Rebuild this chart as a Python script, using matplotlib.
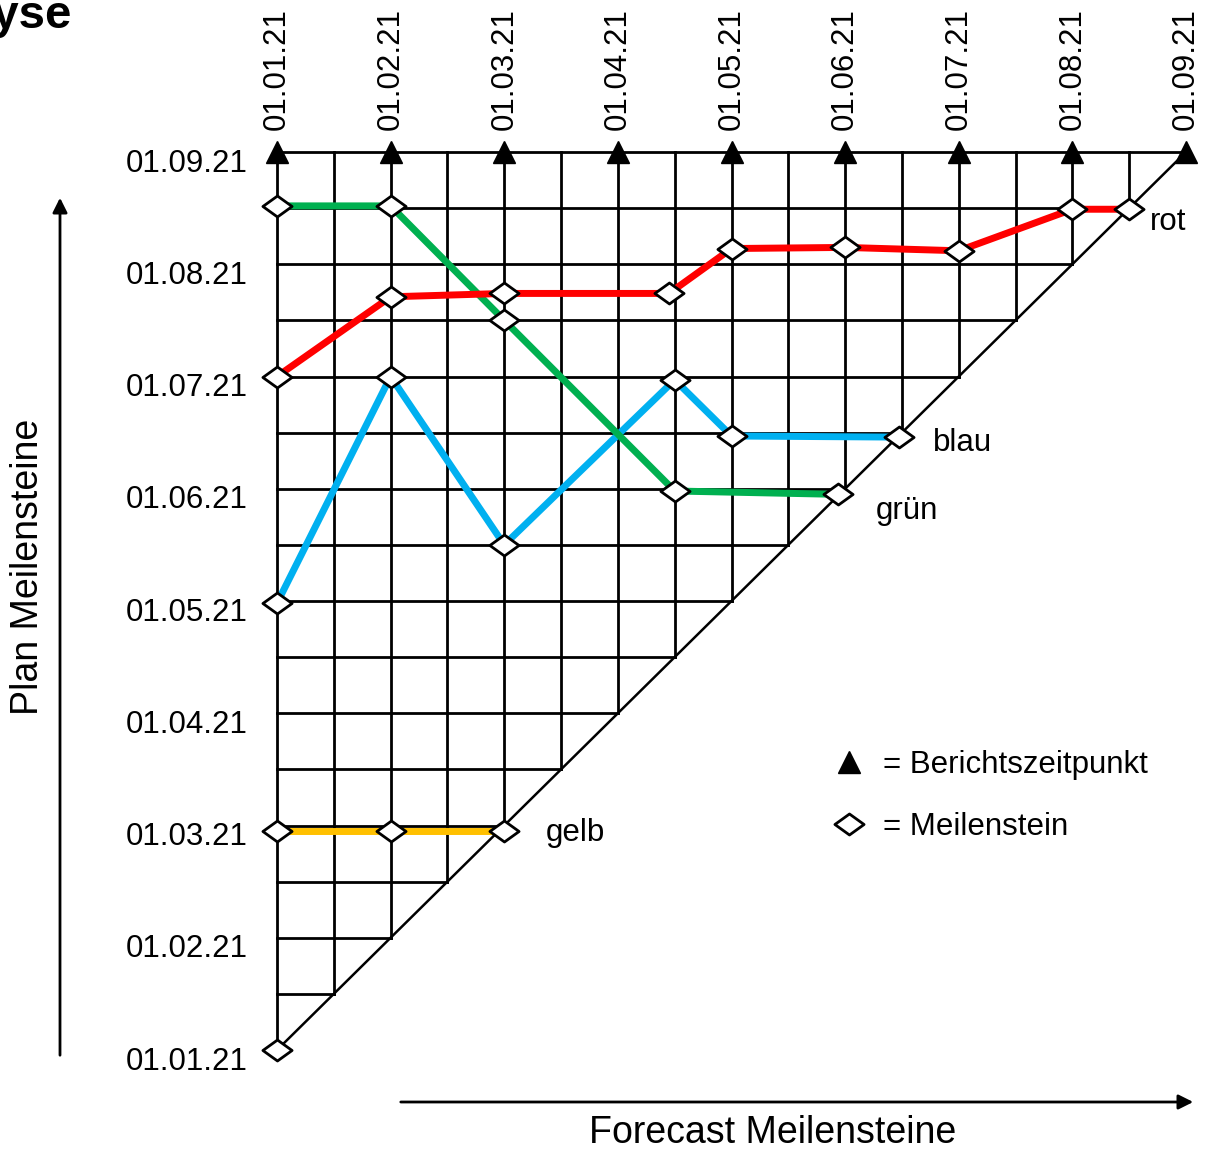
import numpy as np
import matplotlib.pyplot as plt
from matplotlib.path import Path
from matplotlib.lines import Line2D
from matplotlib.transforms import ScaledTranslation

plt.rcParams['font.family'] = ['Liberation Sans', 'DejaVu Sans']

# dates (report date on x, planned milestone date on y), in months from 01.01.21
dates = ['01.01.21', '01.02.21', '01.03.21', '01.04.21', '01.05.21',
         '01.06.21', '01.07.21', '01.08.21', '01.09.21']

rot_x = [0, 1, 2, 3.45, 4, 5, 6, 7, 7.5]
rot_y = [6.0, 6.71, 6.74, 6.74, 7.14, 7.15, 7.12, 7.49, 7.49]

gruen_x = [0, 1, 2, 3.5, 4.94]
gruen_y = [7.52, 7.52, 6.5, 4.98, 4.95]

blau_x = [0, 1, 2, 3.5, 4.0, 5.47]
blau_y = [3.98, 6.0, 4.5, 5.97, 5.47, 5.46]

gelb_x = [0, 1, 2]
gelb_y = [1.95, 1.95, 1.95]

start_x = [0]
start_y = [0]

series = [
    ('gelb', gelb_x, gelb_y, '#FFC000', (30, -1)),
    ('blau', blau_x, blau_y, '#00B0F0', (25, -4)),
    ('grün', gruen_x, gruen_y, '#00B050', (27, -12)),
    ('rot', rot_x, rot_y, '#FF0000', (15, -9)),
]

fs = 22.5
diamond = Path([(-1, 0), (0, 0.72), (1, 0), (0, -0.72), (-1, 0)],
               [Path.MOVETO, Path.LINETO, Path.LINETO, Path.LINETO, Path.CLOSEPOLY])

fig = plt.figure(figsize=(12.11, 11.52), dpi=100)
ax = fig.add_axes([277 / 1211, 1 - 1050 / 1152, 909 / 1211, 898 / 1152])
n = len(dates) - 1
ax.set_xlim(0, n)
ax.set_ylim(0, n)
for s in ax.spines.values():
    s.set_visible(False)

# triangular grid (half-month steps)
steps = np.arange(0, n + 0.01, 0.5)
for v in steps:
    if v > 0:
        ax.plot([0, v], [v, v], color='black', lw=2, clip_on=False, zorder=1)
    if v < n:
        ax.plot([v, v], [v, n], color='black', lw=2, clip_on=False, zorder=1)
ax.plot([0, n], [0, n], color='black', lw=1.8, clip_on=False, zorder=1)

# report dates
ax.plot(range(n + 1), [n] * (n + 1), linestyle='none', marker='^', ms=16,
        color='black', clip_on=False, zorder=5)

for name, xs, ys, col, off in series:
    ax.plot(xs, ys, color=col, lw=5, solid_capstyle='butt', zorder=3)
    ax.plot(xs, ys, linestyle='none', marker=diamond, ms=21, mfc='white',
            mec='black', mew=2, clip_on=False, zorder=4)
    ax.annotate(name, (xs[-1], ys[-1]), xytext=off, textcoords='offset points',
                ha='left', va='center', fontsize=fs)
ax.plot(start_x, start_y, linestyle='none', marker=diamond, ms=21, mfc='white',
        mec='black', mew=2, clip_on=False, zorder=4)

# axis labels
ax.xaxis.tick_top()
ax.set_xticks(range(n + 1))
ax.set_xticklabels(dates, rotation=90, fontsize=fs)
ax.set_yticks(range(n + 1))
ax.set_yticklabels(dates, fontsize=fs)
ax.tick_params(axis='x', length=0, pad=16)
ax.tick_params(axis='y', length=0, pad=21)
for lab in ax.get_yticklabels():
    lab.set_transform(lab.get_transform() + ScaledTranslation(0, -0.08, fig.dpi_scale_trans))

# legend
handles = [
    Line2D([], [], linestyle='none', marker='^', ms=16, color='black'),
    Line2D([], [], linestyle='none', marker=diamond, ms=21, mfc='white', mec='black', mew=2),
]
ax.legend(handles, ['= Berichtszeitpunkt', '= Meilenstein'], frameon=False,
          fontsize=fs, loc='upper left', bbox_to_anchor=(0.581, 0.365),
          handlelength=1.0, handletextpad=0.6, labelspacing=1.0)

# axis arrows and titles
fig.text(28 / 1211, 1 - 567 / 1152, 'Plan Meilensteine', rotation=90,
         ha='center', va='center', fontsize=27)
fig.text(773 / 1211, 1 - 1133 / 1152, 'Forecast Meilensteine',
         ha='center', va='center', fontsize=27)
arrow = dict(arrowstyle='-|>', lw=2, color='black', mutation_scale=22)
ax.annotate('', xy=(60 / 1211, 1 - 195 / 1152), xytext=(60 / 1211, 1 - 1058 / 1152),
            xycoords='figure fraction', textcoords='figure fraction', arrowprops=arrow)
ax.annotate('', xy=(1196 / 1211, 1 - 1102 / 1152), xytext=(398 / 1211, 1 - 1102 / 1152),
            xycoords='figure fraction', textcoords='figure fraction', arrowprops=arrow)

# title (cut off at the left edge as in the slide)
fig.text(72 / 1211, 1 - 28 / 1152, 'Meilensteintrendanalyse', ha='right',
         va='baseline', fontsize=34, fontweight='bold')

fig.savefig('out.png', dpi=100)
